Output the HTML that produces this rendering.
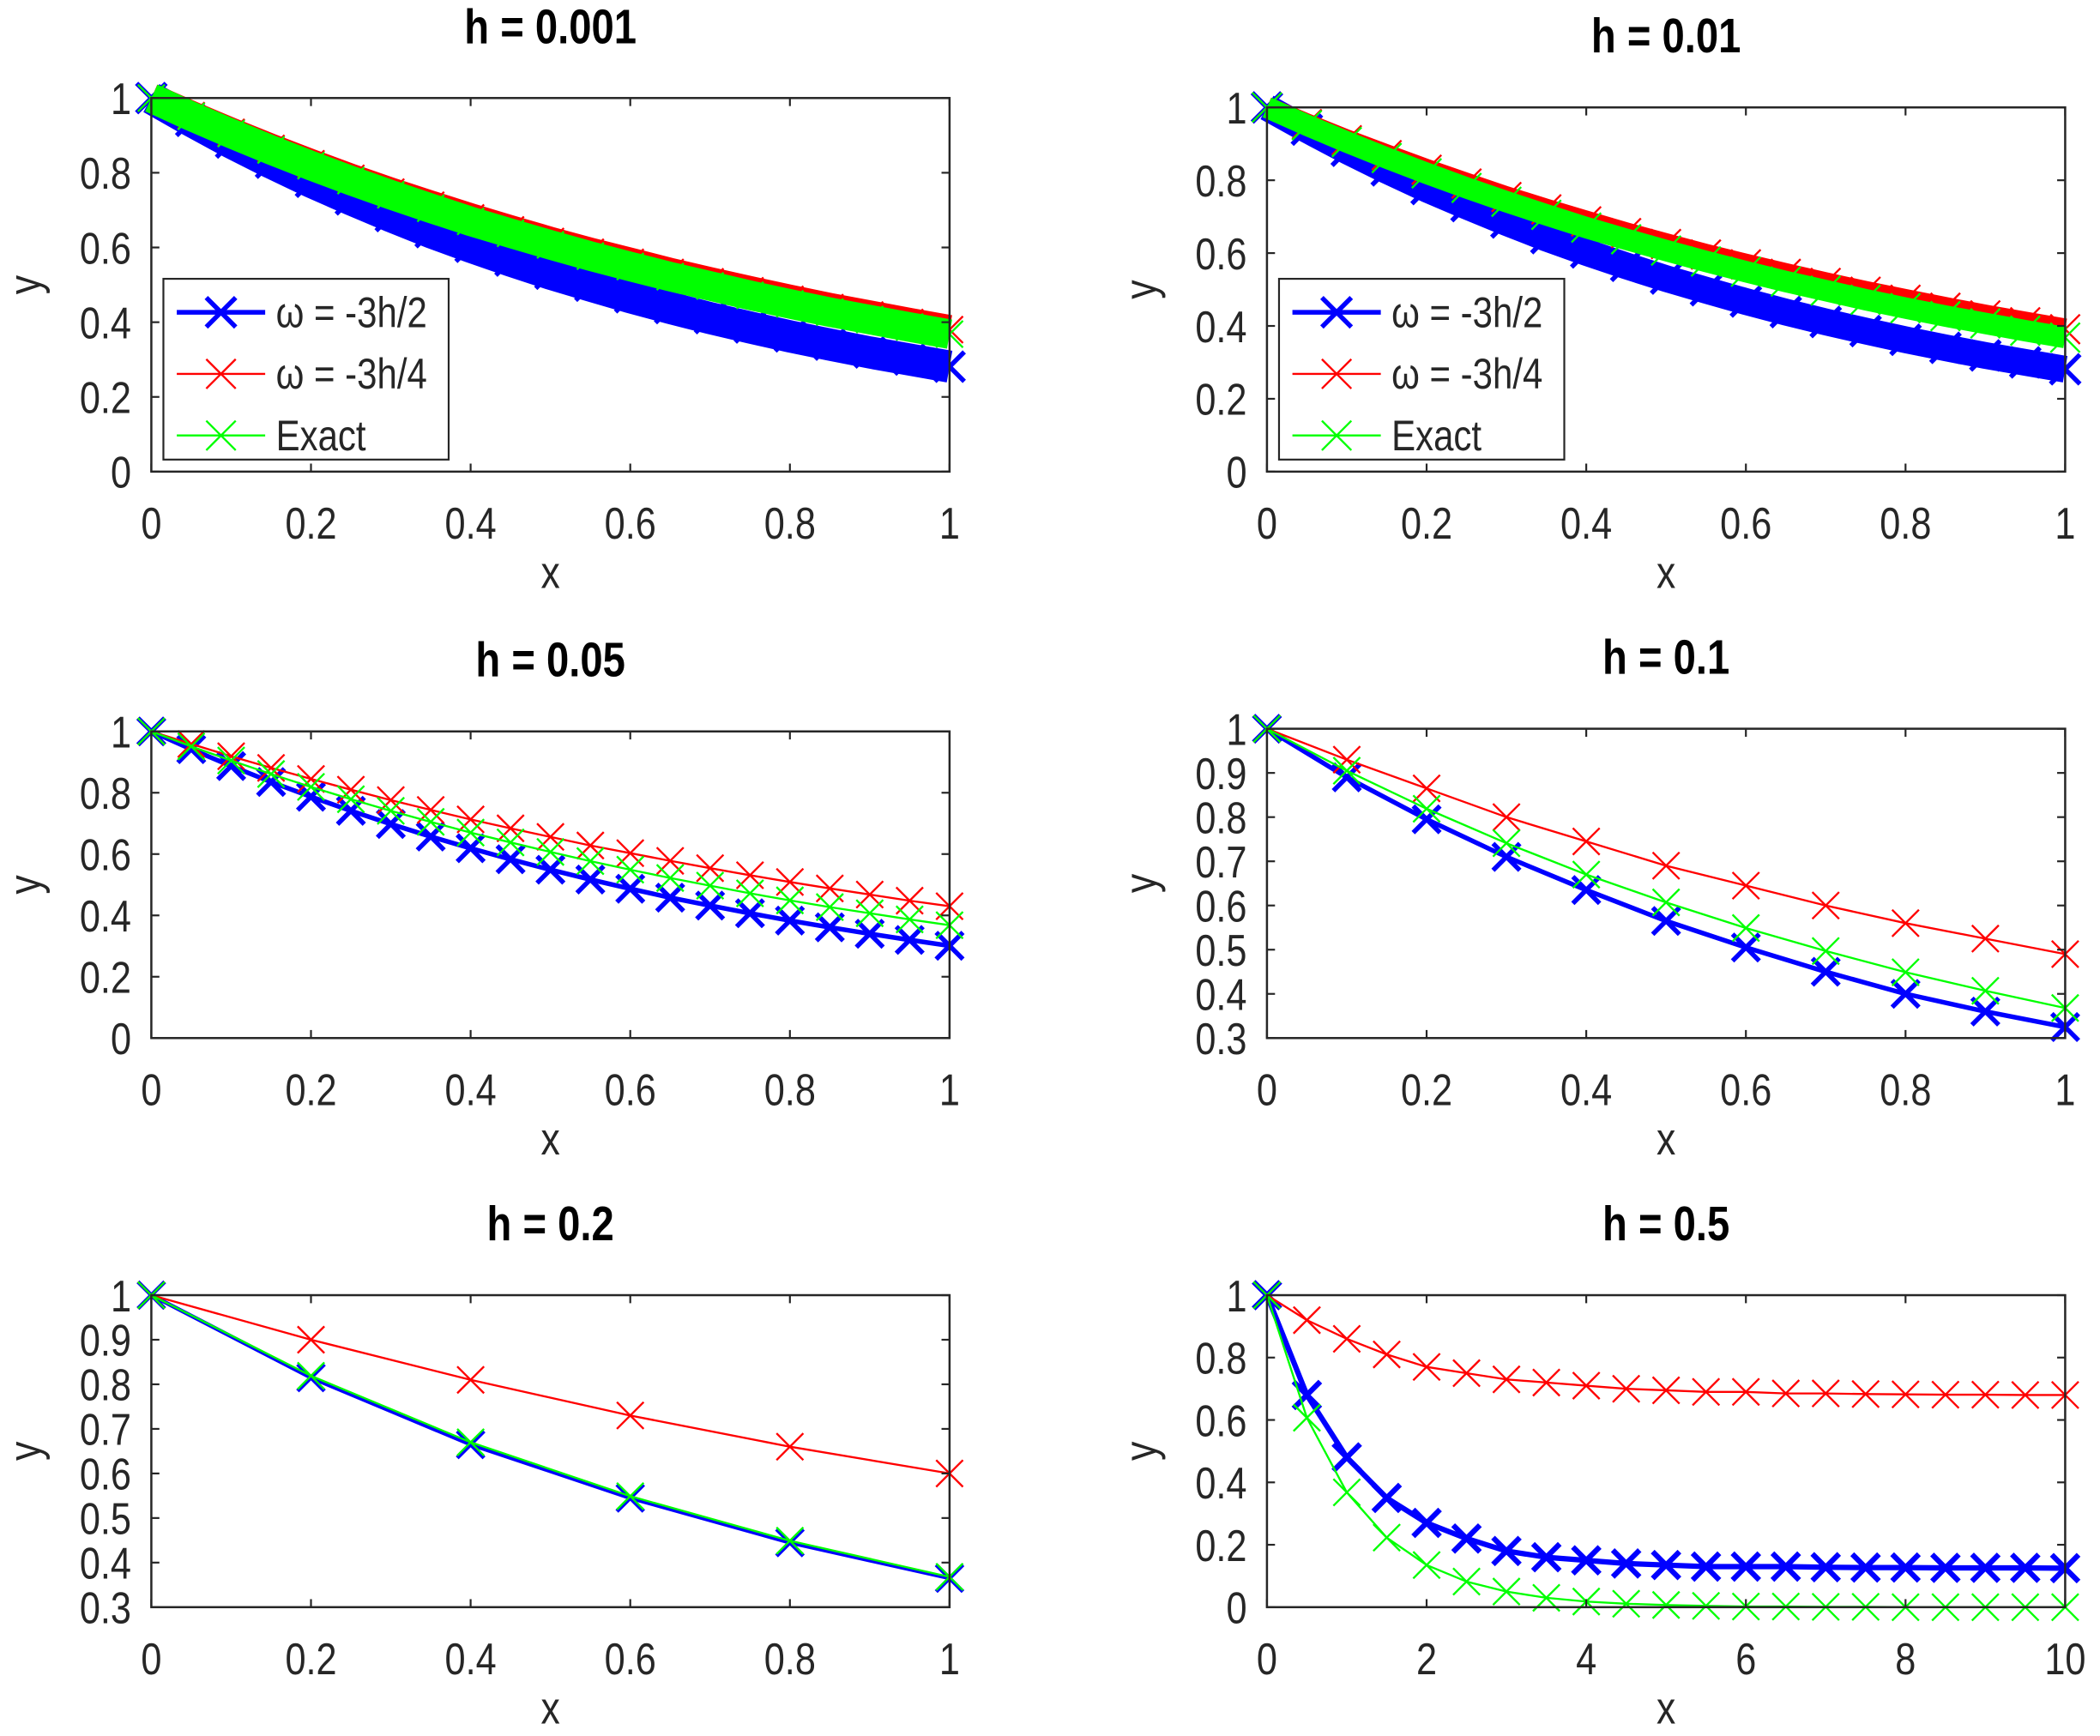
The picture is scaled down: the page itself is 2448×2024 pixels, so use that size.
<!DOCTYPE html>
<html><head><meta charset="utf-8"><style>html,body{margin:0;padding:0;background:#fff}svg{display:block}</style></head>
<body>
<svg id="fig" xmlns="http://www.w3.org/2000/svg" width="2448" height="2024" viewBox="0 0 1568 1296"></svg>
<script>
// ---- data ----
const x21 = [0,0.05,0.1,0.15,0.2,0.25,0.3,0.35,0.4,0.45,0.5,0.55,0.6,0.65,0.7,0.75,0.8,0.85,0.9,0.95,1];
const x11 = [0,0.1,0.2,0.3,0.4,0.5,0.6,0.7,0.8,0.9,1];
const x6 = [0,0.2,0.4,0.6,0.8,1];
const x21b = [0,0.5,1,1.5,2,2.5,3,3.5,4,4.5,5,5.5,6,6.5,7,7.5,8,8.5,9,9.5,10];
const exact21 = [1,.951,.905,.861,.819,.779,.741,.705,.670,.638,.607,.577,.549,.522,.497,.472,.449,.427,.407,.387,.368];
const blueH001 = [1,.939,.881,.827,.776,.729,.684,.641,.602,.565,.530,.498,.467,.438,.411,.386,.362,.340,.319,.300,.281];
const redH001 = [1,.953,.908,.865,.824,.785,.748,.713,.679,.647,.616,.587,.560,.533,.508,.484,.461,.439,.419,.399,.380];
const blueH01 = [1,.939,.881,.827,.776,.729,.684,.641,.602,.565,.530,.498,.467,.438,.411,.386,.362,.340,.319,.300,.281];
const redH01 = [1,.954,.910,.869,.829,.791,.754,.720,.687,.655,.625,.596,.569,.543,.518,.494,.472,.450,.429,.410,.391];
const blueH05 = [1,.942,.887,.835,.787,.741,.698,.657,.619,.583,.549,.517,.487,.458,.432,.407,.383,.361,.340,.320,.301];
const redH05 = [1,.959,.919,.881,.845,.810,.776,.744,.713,.684,.656,.628,.603,.578,.554,.531,.509,.488,.468,.448,.430];
const blueH1 = [1,.89,.795,.71,.635,.565,.505,.45,.40,.36,.325];
const redH1 = [1,.93,.865,.80,.745,.69,.645,.60,.56,.525,.49];
const exactH1 = [1,.905,.819,.741,.670,.607,.549,.497,.449,.407,.368];
const blueH2 = [1,.815,.665,.545,.445,.365];
const redH2 = [1,.90,.81,.73,.66,.60];
const exactH2 = [1,.819,.670,.549,.449,.368];
const blueH5 = [1,.68,.48,.35,.27,.22,.18,.16,.15,.14,.135,.13,.13,.13,.128,.127,.127,.126,.126,.126,.125];
const redH5 = [1,.92,.86,.81,.77,.75,.73,.72,.71,.70,.695,.69,.69,.685,.685,.683,.682,.681,.681,.680,.680];
const exactH5 = [1,.607,.368,.223,.135,.082,.050,.030,.018,.011,.007,.004,.002,.002,.001,.001,0,0,0,0,0];
const ticks01 = [0,0.2,0.4,0.6,0.8,1];
const tickLabels01 = ["0","0.2","0.4","0.6","0.8","1"];
const ticks31 = [0.3,0.4,0.5,0.6,0.7,0.8,0.9,1];
const tickLabels31 = ["0.3","0.4","0.5","0.6","0.7","0.8","0.9","1"];
const ticks10 = [0,2,4,6,8,10];
const tickLabels10 = ["0","2","4","6","8","10"];
const titles = ["h = 0.001","h = 0.01","h = 0.05","h = 0.1","h = 0.2","h = 0.5"];
const legendLabels = ["\u03C9 = -3h/2","\u03C9 = -3h/4","Exact"];

const NS="http://www.w3.org/2000/svg";
const fig=document.getElementById('fig');
const BLUE="#0000ff",RED="#ff0000",GREEN="#00ff00",AX="#262626";
function el(tag,attrs,parent){const e=document.createElementNS(NS,tag);for(const k in attrs)e.setAttribute(k,attrs[k]);(parent||fig).appendChild(e);return e;}
function txt(s,x,y,size,anchor,parent,bold,rot){
  const t=el('text',{x:0,y:0,'font-family':'Liberation Sans, sans-serif','font-size':size,'text-anchor':anchor,fill:bold?'#000':AX,'font-weight':bold?'bold':'normal',
    transform:'translate('+x+','+y+')'+(rot?' rotate(-90)':'')+' scale(0.84,1)'},parent);
  t.textContent=s;return t;}
function marker(g,cx,cy,s,color,w){
  el('path',{d:`M${cx-s},${cy-s}L${cx+s},${cy+s}M${cx-s},${cy+s}L${cx+s},${cy-s}`,stroke:color,'stroke-width':w,fill:'none'},g);}

function panel(p){
  const g=el('g',{});
  
  
  const {L,R,T,B,xmin,xmax,ymin,ymax}=p;
  const sx=v=>L+(v-xmin)/(xmax-xmin)*(R-L);
  const sy=v=>B-(v-ymin)/(ymax-ymin)*(B-T);
  el('rect',{x:L,y:T,width:R-L,height:B-T,fill:'#fff'},g);
  const clip=el('g',{},g);
  p.series.forEach(s=>{
    const sg=el('g',{},clip);
    
    
    const pts=s.xs.map((xv,i)=>sx(xv)+','+sy(s.ys[i])).join(' ');
    if(s.band){el('polyline',{points:pts,fill:'none',stroke:s.color,'stroke-width':s.band,'stroke-linejoin':'round'},sg);}
    el('polyline',{points:pts,fill:'none',stroke:s.color,'stroke-width':s.lw,'stroke-linejoin':'round'},sg);
    s.xs.forEach((xv,i)=>marker(sg,sx(xv),sy(s.ys[i]),s.ms,s.color,s.mw));
  });
  const ax=el('g',{},g);
  
  
  el('rect',{x:L,y:T,width:R-L,height:B-T,fill:'none',stroke:AX,'stroke-width':1.6},ax);
  p.xt.forEach((v,i)=>{const X=sx(v);
    el('line',{x1:X,y1:B,x2:X,y2:B-6,stroke:AX,'stroke-width':1.4},ax);
    el('line',{x1:X,y1:T,x2:X,y2:T+6,stroke:AX,'stroke-width':1.4},ax);
    const t=txt(p.xl[i],X,B+50,33,'middle',ax);
    
    });
  p.yt.forEach((v,i)=>{const Y=sy(v);
    el('line',{x1:L,y1:Y,x2:L+6,y2:Y,stroke:AX,'stroke-width':1.4},ax);
    el('line',{x1:R,y1:Y,x2:R-6,y2:Y,stroke:AX,'stroke-width':1.4},ax);
    const t=txt(p.yl[i],L-15,Y+12,33,'end',ax);
    
    });
  const tt=txt(p.title,(L+R)/2,T-41,36,'middle',g,true);
  
  
  const xl=txt('x',(L+R)/2,B+87,34,'middle',g);
  
  
  const yl=txt('y',L-83,(T+B)/2,34,'middle',g,false,true);
  
  
  if(p.legend){
    const lg=el('g',{},g);
    
    
    const lx=L+9,ly=208;
    el('rect',{x:lx,y:ly,width:213,height:135,fill:'#fff',stroke:AX,'stroke-width':1.4},lg);
    const cols=[BLUE,RED,GREEN],lws=[3.5,1.5,1.5],mws=[3.5,1.5,1.5];
    legendLabels.forEach((lab,i)=>{
      const ey=ly+25+i*46;
      const e=el('g',{},lg);
      
      
      el('line',{x1:lx+10,y1:ey,x2:lx+76,y2:ey,stroke:cols[i],'stroke-width':lws[i]},e);
      marker(e,lx+43,ey,11,cols[i],mws[i]);
      txt(lab,lx+84,ey+11,32,'start',e);
    });
  }
}
const S=(name,xs,ys,color,lw,ms,mw,band)=>({name,xs,ys,color,lw,ms,mw,band});
panel({name:'panel-h-0.001',L:113,R:709,T:73,B:352,xmin:0,xmax:1,ymin:0,ymax:1,xt:ticks01,xl:tickLabels01,yt:ticks01,yl:tickLabels01,title:titles[0],legend:true,
 series:[S('series-blue',x21,blueH001,BLUE,3.5,11,3.5,24),S('series-red',x21,redH001,RED,1.5,10,1.5,22),S('series-exact',x21,exact21,GREEN,1.5,10,1.5,22)]});
panel({name:'panel-h-0.01',L:946,R:1542,T:80,B:352,xmin:0,xmax:1,ymin:0,ymax:1,xt:ticks01,xl:tickLabels01,yt:ticks01,yl:tickLabels01,title:titles[1],legend:true,
 series:[S('series-blue',x21,blueH01,BLUE,3.5,11,3.5,20),S('series-red',x21,redH01,RED,1.5,11,1.5,16),S('series-exact',x21,exact21,GREEN,1.5,11,1.5,16)]});
panel({name:'panel-h-0.05',L:113,R:709,T:546,B:775,xmin:0,xmax:1,ymin:0,ymax:1,xt:ticks01,xl:tickLabels01,yt:ticks01,yl:tickLabels01,title:titles[2],
 series:[S('series-blue',x21,blueH05,BLUE,3.5,10,3.5),S('series-red',x21,redH05,RED,1.5,10,1.5),S('series-exact',x21,exact21,GREEN,1.5,10,1.5)]});
panel({name:'panel-h-0.1',L:946,R:1542,T:544,B:775,xmin:0,xmax:1,ymin:0.3,ymax:1,xt:ticks01,xl:tickLabels01,yt:ticks31,yl:tickLabels31,title:titles[3],
 series:[S('series-blue',x11,blueH1,BLUE,3.5,10,3.5),S('series-red',x11,redH1,RED,1.5,10,1.5),S('series-exact',x11,exactH1,GREEN,1.5,10,1.5)]});
panel({name:'panel-h-0.2',L:113,R:709,T:967,B:1200,xmin:0,xmax:1,ymin:0.3,ymax:1,xt:ticks01,xl:tickLabels01,yt:ticks31,yl:tickLabels31,title:titles[4],
 series:[S('series-blue',x6,blueH2,BLUE,3,10,3),S('series-red',x6,redH2,RED,1.5,10,1.5),S('series-exact',x6,exactH2,GREEN,1.5,10,1.5)]});
panel({name:'panel-h-0.5',L:946,R:1542,T:967,B:1200,xmin:0,xmax:10,ymin:0,ymax:1,xt:ticks10,xl:tickLabels10,yt:ticks01,yl:tickLabels01,title:titles[5],
 series:[S('series-blue',x21b,blueH5,BLUE,4,10,4),S('series-red',x21b,redH5,RED,1.5,10,1.5),S('series-exact',x21b,exactH5,GREEN,1.5,10,1.5)]});
</script>
</body></html>
